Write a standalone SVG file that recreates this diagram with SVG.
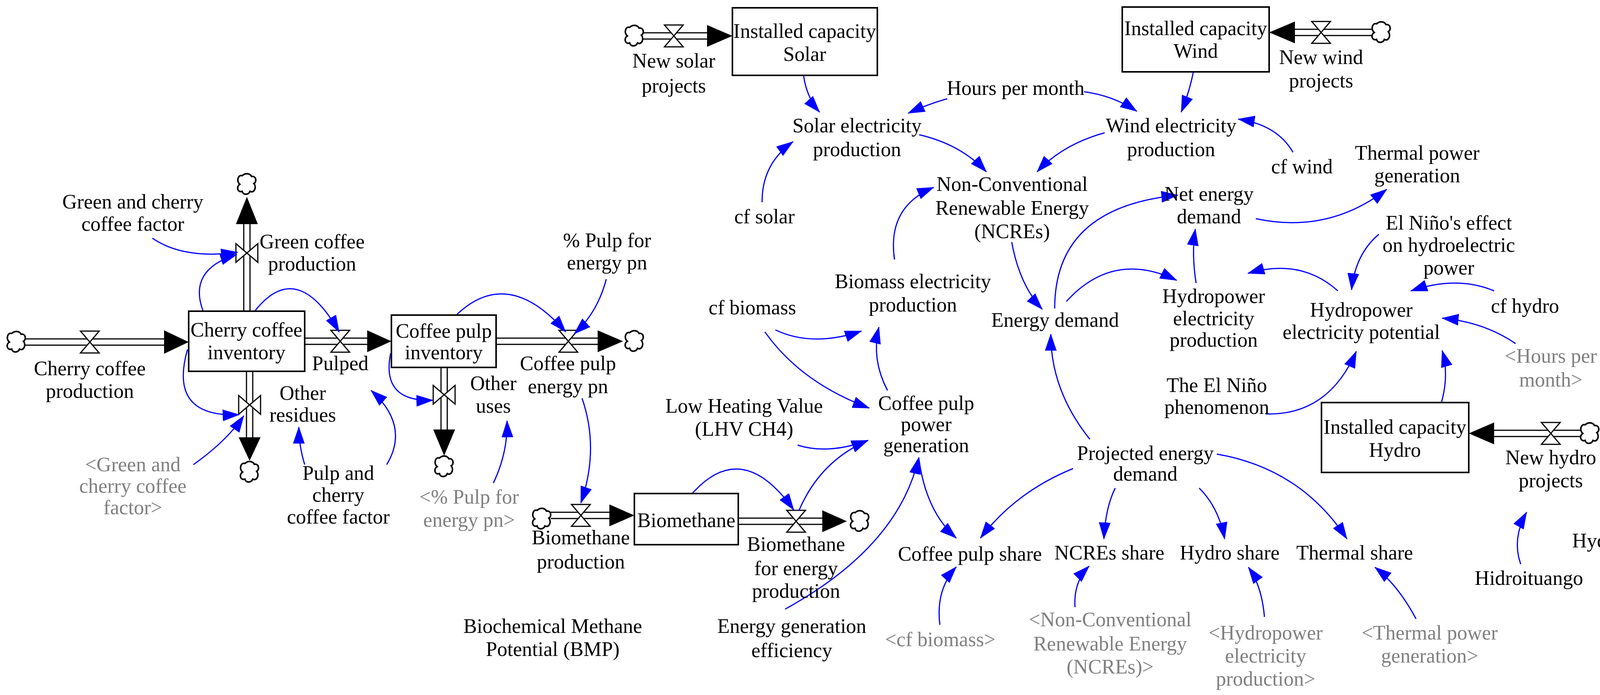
<svg xmlns="http://www.w3.org/2000/svg" xmlns:xlink="http://www.w3.org/1999/xlink" width="4392" height="1780" viewBox="0 0 4392 1780">
<style>
text{font-family:"Liberation Serif","Times New Roman",serif;font-size:52px;fill:#000;text-anchor:middle}
text.g{fill:#808080}
.stock{fill:#fff;stroke:#000;stroke-width:4}
.pipe{stroke:#000;stroke-width:3;fill:none}
.head{fill:#000}
.valve{fill:#fff;stroke:#000;stroke-width:3}
.cloud{fill:#fff;stroke:#000;stroke-width:4}
.link{fill:none;stroke:#0000ff;stroke-width:3;marker-end:url(#ah)}
</style>
<defs>
<marker id="ah" markerUnits="userSpaceOnUse" markerWidth="44" markerHeight="30" refX="42" refY="15" orient="auto"><path d="M0,0 L44,15 L0,30 Z" fill="#0000ff"/></marker>
<g id="cloud"><path class="cloud" d="M-12,-22 C-4,-30 8,-28 12,-20 C24,-22 26,-6 18,-2 C26,8 18,24 8,18 C4,28 -10,28 -12,18 C-24,22 -28,6 -18,0 C-28,-8 -22,-26 -12,-22 Z"/></g>
<g id="vh"><path class="valve" d="M-24,-28 L24,-28 L0,0 Z M-24,28 L24,28 L0,0 Z"/></g>
<g id="vv"><path class="valve" d="M-28,-24 L-28,24 L0,0 Z M28,-24 L28,24 L0,0 Z"/></g>
</defs>

<g id="flows">
<use href="#cloud" x="42" y="876"/>
<path class="pipe" d="M65,868 H422 M65,884 H422"/><polygon class="head" points="420,846 483,876 420,906"/>
<use href="#vh" x="230" y="876"/>
<path class="pipe" d="M780,866 H942 M780,882 H942"/><polygon class="head" points="940,846 1002,874 940,902"/>
<use href="#vh" x="871" y="874"/>
<path class="pipe" d="M1270,866 H1532 M1270,882 H1532"/><polygon class="head" points="1530,846 1595,874 1530,902"/>
<use href="#vh" x="1455" y="874"/>
<use href="#cloud" x="1624" y="874"/>
<path class="pipe" d="M624,797 V572 M640,797 V572"/><polygon class="head" points="604,574 632,504 660,574"/>
<use href="#vv" x="632" y="648"/>
<use href="#cloud" x="632" y="472"/>
<path class="pipe" d="M631,951 V1122 M647,951 V1122"/><polygon class="head" points="611,1120 639,1180 667,1120"/>
<use href="#vv" x="639" y="1037"/>
<use href="#cloud" x="639" y="1209"/>
<path class="pipe" d="M1129,941 V1102 M1145,941 V1102"/><polygon class="head" points="1109,1100 1137,1167 1165,1100"/>
<use href="#vv" x="1137" y="1011"/>
<use href="#cloud" x="1137" y="1195"/>
<use href="#cloud" x="1387" y="1329"/>
<path class="pipe" d="M1410,1312 H1562 M1410,1328 H1562"/><polygon class="head" points="1560,1292 1624,1320 1560,1348"/>
<use href="#vh" x="1487" y="1320"/>
<path class="pipe" d="M1890,1327 H2107 M1890,1343 H2107"/><polygon class="head" points="2105,1307 2168,1335 2105,1363"/>
<use href="#vh" x="2038" y="1335"/>
<use href="#cloud" x="2201" y="1335"/>
<use href="#cloud" x="1624" y="92"/>
<path class="pipe" d="M1647,84 H1812 M1647,100 H1812"/><polygon class="head" points="1810,64 1875,92 1810,120"/>
<use href="#vh" x="1725" y="92"/>
<use href="#cloud" x="3536" y="83"/>
<path class="pipe" d="M3513,75 H3313 M3513,91 H3313"/><polygon class="head" points="3315,55 3249,83 3315,111"/>
<use href="#vh" x="3382" y="83"/>
<use href="#cloud" x="4070" y="1110"/>
<path class="pipe" d="M4047,1102 H3823 M4047,1118 H3823"/><polygon class="head" points="3825,1082 3760,1110 3825,1138"/>
<use href="#vh" x="3970" y="1110"/>
</g>

<g id="connectors">
<path class="link" d="M390,610 Q470,665 608,646"/>
<path class="link" d="M520,797 Q480,690 606,652"/>
<path class="link" d="M652,797 Q760,660 868,850"/>
<path class="link" d="M480,895 Q430,1070 612,1062"/>
<path class="link" d="M495,1190 Q580,1130 624,1065"/>
<path class="link" d="M780,1190 Q765,1140 765,1094"/>
<path class="link" d="M990,1190 Q1050,1090 950,1000"/>
<path class="link" d="M1168,807 Q1300,680 1448,850"/>
<path class="link" d="M1000,905 Q975,1030 1108,1025"/>
<path class="link" d="M1552,715 Q1530,800 1470,855"/>
<path class="link" d="M1263,1237 Q1300,1160 1298,1078"/>
<path class="link" d="M1490,1020 Q1535,1150 1487,1288"/>
<path class="link" d="M1772,1264 Q1900,1120 2032,1306"/>
<path class="link" d="M2045,1308 Q2100,1180 2222,1128"/>
<path class="link" d="M2042,1140 Q2120,1165 2222,1128"/>
<path class="link" d="M1958,850 Q2050,980 2225,1045"/>
<path class="link" d="M1985,845 Q2080,890 2205,848"/>
<path class="link" d="M2272,1000 Q2230,920 2250,838"/>
<path class="link" d="M2290,665 Q2270,530 2390,480"/>
<path class="link" d="M2010,1560 Q2300,1400 2352,1172"/>
<path class="link" d="M2352,1172 Q2370,1310 2448,1378"/>
<path class="link" d="M2747,1200 Q2600,1260 2510,1378"/>
<path class="link" d="M2406,1600 Q2395,1510 2448,1452"/>
<path class="link" d="M2752,1555 Q2748,1490 2788,1450"/>
<path class="link" d="M2855,1250 Q2830,1300 2826,1380"/>
<path class="link" d="M3070,1250 Q3120,1300 3135,1380"/>
<path class="link" d="M3115,1163 Q3330,1200 3448,1380"/>
<path class="link" d="M3237,1580 Q3230,1500 3196,1453"/>
<path class="link" d="M3625,1585 Q3580,1500 3520,1453"/>
<path class="link" d="M2790,1125 Q2690,1000 2690,856"/>
<path class="link" d="M2590,620 Q2610,730 2668,792"/>
<path class="link" d="M2700,790 Q2700,530 3015,500"/>
<path class="link" d="M2730,772 Q2850,640 3012,718"/>
<path class="link" d="M3062,725 Q3050,650 3060,587"/>
<path class="link" d="M3215,560 Q3400,600 3550,485"/>
<path class="link" d="M3425,745 Q3330,660 3195,700"/>
<path class="link" d="M3530,600 Q3470,650 3460,742"/>
<path class="link" d="M3825,745 Q3730,705 3612,745"/>
<path class="link" d="M3880,880 Q3800,825 3692,815"/>
<path class="link" d="M3240,1060 Q3400,1065 3472,900"/>
<path class="link" d="M3690,1031 Q3710,960 3692,898"/>
<path class="link" d="M3893,1445 Q3870,1380 3908,1312"/>
<path class="link" d="M4170,1350 Q4160,1300 4135,1272"/>
<path class="link" d="M2057,193 Q2065,250 2098,287"/>
<path class="link" d="M2425,253 Q2380,265 2325,290"/>
<path class="link" d="M2775,235 Q2850,245 2910,285"/>
<path class="link" d="M3055,184 Q3045,235 3024,287"/>
<path class="link" d="M3310,390 Q3270,320 3170,305"/>
<path class="link" d="M2353,345 Q2460,370 2525,440"/>
<path class="link" d="M2828,340 Q2720,370 2655,440"/>
<path class="link" d="M1951,518 Q1950,420 2030,363"/>
</g>

<g id="stocks">
<g id="cherry-inventory"><rect class="stock" x="483" y="797" width="297" height="154"/><text x="631" y="862">Cherry coffee</text><text x="631" y="920">inventory</text></g>
<g id="pulp-inventory"><rect class="stock" x="1002" y="807" width="268" height="134"/><text x="1136" y="865">Coffee pulp</text><text x="1136" y="920">inventory</text></g>
<g id="biomethane"><rect class="stock" x="1624" y="1264" width="266" height="131"/><text x="1757" y="1350">Biomethane</text></g>
<g id="cap-solar"><rect class="stock" x="1875" y="20" width="371" height="173"/><text x="2060" y="97">Installed capacity</text><text x="2060" y="156">Solar</text></g>
<g id="cap-wind"><rect class="stock" x="2873" y="18" width="376" height="166"/><text x="3061" y="90">Installed capacity</text><text x="3061" y="148">Wind</text></g>
<g id="cap-hydro"><rect class="stock" x="3383" y="1031" width="377" height="179"/><text x="3571" y="1111">Installed capacity</text><text x="3571" y="1170">Hydro</text></g>
</g>

<g id="variables">
<g id="cherry-production"><text x="230" y="961">Cherry coffee</text><text x="230" y="1019">production</text></g>
<g id="green-production"><text x="799" y="636">Green coffee</text><text x="799" y="693">production</text></g>
<g id="gc-factor"><text x="340" y="534">Green and cherry</text><text x="340" y="591">coffee factor</text></g>
<g id="other-residues"><text x="775" y="1024">Other</text><text x="775" y="1080">residues</text></g>
<g id="gc-factor-shadow"><text class="g" x="340" y="1207">&lt;Green and</text><text class="g" x="340" y="1262">cherry coffee</text><text class="g" x="340" y="1317">factor&gt;</text></g>
<g id="pulped"><text x="871" y="948">Pulped</text></g>
<g id="pcc-factor"><text x="866" y="1229">Pulp and</text><text x="866" y="1285">cherry</text><text x="866" y="1341">coffee factor</text></g>
<g id="other-uses"><text x="1263" y="999">Other</text><text x="1263" y="1057">uses</text></g>
<g id="pulp-energy"><text x="1454" y="948">Coffee pulp</text><text x="1454" y="1007">energy pn</text></g>
<g id="pct-pulp"><text x="1554" y="633">% Pulp for</text><text x="1554" y="690">energy pn</text></g>
<g id="pct-pulp-shadow"><text class="g" x="1201" y="1290">&lt;% Pulp for</text><text class="g" x="1201" y="1349">energy pn&gt;</text></g>
<g id="biomethane-production"><text x="1487" y="1394">Biomethane</text><text x="1487" y="1456">production</text></g>
<g id="biomethane-energy"><text x="2038" y="1411">Biomethane</text><text x="2038" y="1473">for energy</text><text x="2038" y="1531">production</text></g>
<g id="bmp"><text x="1415" y="1621">Biochemical Methane</text><text x="1415" y="1680">Potential (BMP)</text></g>
<g id="efficiency"><text x="2027" y="1621">Energy generation</text><text x="2027" y="1683">efficiency</text></g>
<g id="lhv"><text x="1905" y="1057">Low Heating Value</text><text x="1905" y="1116">(LHV CH4)</text></g>
<g id="pulp-power"><text x="2371" y="1050">Coffee pulp</text><text x="2371" y="1104">power</text><text x="2371" y="1158">generation</text></g>
<g id="pulp-share"><text x="2483" y="1436">Coffee pulp share</text></g>
<g id="cf-biomass-shadow"><text class="g" x="2407" y="1655">&lt;cf biomass&gt;</text></g>
<g id="ncre-shadow"><text class="g" x="2842" y="1604">&lt;Non-Conventional</text><text class="g" x="2842" y="1666">Renewable Energy</text><text class="g" x="2842" y="1725">(NCREs)&gt;</text></g>
<g id="ncre-share"><text x="2840" y="1433">NCREs share</text></g>
<g id="hydro-share"><text x="3148" y="1433">Hydro share</text></g>
<g id="thermal-share"><text x="3468" y="1433">Thermal share</text></g>
<g id="hydro-prod-shadow"><text class="g" x="3240" y="1638">&lt;Hydropower</text><text class="g" x="3240" y="1697">electricity</text><text class="g" x="3240" y="1756">production&gt;</text></g>
<g id="thermal-shadow"><text class="g" x="3660" y="1638">&lt;Thermal power</text><text class="g" x="3660" y="1697">generation&gt;</text></g>
<g id="projected"><text x="2932" y="1178">Projected energy</text><text x="2932" y="1231">demand</text></g>
<g id="el-nino"><text x="3115" y="1004">The El Niño</text><text x="3115" y="1060">phenomenon</text></g>
<g id="new-hydro"><text x="3970" y="1189">New hydro</text><text x="3970" y="1248">projects</text></g>
<g id="hydro-projects"><text x="4180" y="1402">Hydro projects</text></g>
<g id="hidroituango"><text x="3914" y="1498">Hidroituango</text></g>
<g id="hours-shadow"><text class="g" x="3970" y="929">&lt;Hours per</text><text class="g" x="3970" y="990">month&gt;</text></g>
<g id="new-wind"><text x="3382" y="164">New wind</text><text x="3382" y="224">projects</text></g>
<g id="wind-prod"><text x="2998" y="339">Wind electricity</text><text x="2998" y="400">production</text></g>
<g id="cf-wind"><text x="3333" y="444">cf wind</text></g>
<g id="thermal"><text x="3628" y="409">Thermal power</text><text x="3628" y="467">generation</text></g>
<g id="net-demand"><text x="3095" y="514">Net energy</text><text x="3095" y="572">demand</text></g>
<g id="nino-effect"><text x="3709" y="588">El Niño's effect</text><text x="3709" y="645">on hydroelectric</text><text x="3709" y="703">power</text></g>
<g id="hydro-prod"><text x="3107" y="776">Hydropower</text><text x="3107" y="833">electricity</text><text x="3107" y="888">production</text></g>
<g id="hydro-potential"><text x="3485" y="811">Hydropower</text><text x="3485" y="868">electricity potential</text></g>
<g id="cf-hydro"><text x="3904" y="801">cf hydro</text></g>
<g id="new-solar"><text x="1725" y="173">New solar</text><text x="1725" y="237">projects</text></g>
<g id="hours"><text x="2600" y="243">Hours per month</text></g>
<g id="solar-prod"><text x="2194" y="339">Solar electricity</text><text x="2194" y="400">production</text></g>
<g id="ncre"><text x="2591" y="489">Non-Conventional</text><text x="2591" y="550">Renewable Energy</text><text x="2591" y="610">(NCREs)</text></g>
<g id="cf-solar"><text x="1957" y="572">cf solar</text></g>
<g id="biomass-prod"><text x="2337" y="738">Biomass electricity</text><text x="2337" y="798">production</text></g>
<g id="cf-biomass"><text x="1926" y="805">cf biomass</text></g>
<g id="energy-demand"><text x="2701" y="837">Energy demand</text></g>
</g>
</svg>
